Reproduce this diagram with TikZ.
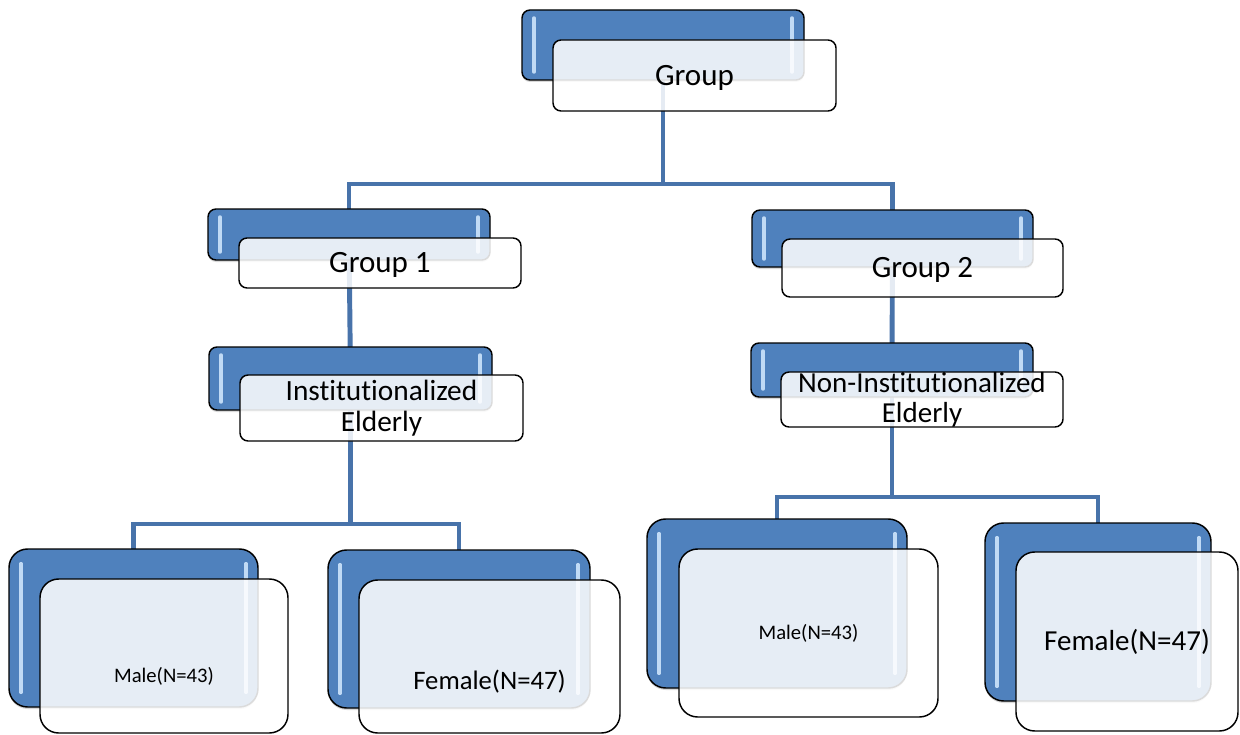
\documentclass[tikz,border=0pt]{standalone}
\usepackage{fontspec}
\setmainfont{Carlito}[Ligatures={NoCommon}]
\usetikzlibrary{fit,shadows}
\pgfdeclarelayer{bgfill}
\pgfdeclarelayer{bg}
\pgfsetlayers{bgfill,bg,main}
\definecolor{boxblue}{RGB}{79,129,189}
\definecolor{connblue}{RGB}{72,115,170}
\definecolor{glosscol}{RGB}{212,234,255}

\newcommand{\twobox}[7]{%
  \node[backbox,#6,fit={(#2)(#3)}] (#1B) {};
  \draw[gloss] ([xshift=9pt,yshift=-#7]#1B.north west) -- ([xshift=9pt,yshift=#7]#1B.south west);
  \draw[gloss] ([xshift=-9pt,yshift=-#7]#1B.north east) -- ([xshift=-9pt,yshift=#7]#1B.south east);
  \node[frontbox,#6,fit={(#4)(#5)}] (#1F) {};
}

\begin{document}
\begin{tikzpicture}[x=0.75pt,y=-0.75pt,
  backbox/.style={draw=black, line width=1.1pt, fill=boxblue, inner sep=0pt, outer sep=0pt,
    drop shadow={shadow xshift=0pt,shadow yshift=-1.5pt,opacity=0.3}},
  frontbox/.style={draw=black, line width=1.1pt, fill=white, fill opacity=0.86, inner sep=0pt, outer sep=0pt},
  smallr/.style={rounded corners=6pt},
  bigr/.style={rounded corners=14pt},
  gloss/.style={draw=glosscol, line width=2.6pt, line cap=round, opacity=0.85},
  conn/.style={draw=connblue, line width=3.7pt},
  lbl/.style={text=black, inner sep=0pt}
]
\begin{pgfonlayer}{bgfill}
\fill[white] (0,0) rectangle (1240,735);
\end{pgfonlayer}
\useasboundingbox (0,0) rectangle (1240,735);

% boxes
\twobox{g}{522,10}{804,80}{553,40}{836,111}{smallr}{6pt}
\twobox{ga}{208,209}{490,260}{239,238}{521,288}{smallr}{6pt}
\twobox{gb}{752,210}{1033,267}{782,239}{1063,297}{smallr}{6pt}
\twobox{in}{209,347}{492,410}{240,375}{523,441}{smallr}{6pt}
\twobox{ni}{751,343}{1033,397}{781,372}{1063,427}{smallr}{6pt}
\twobox{ml}{9,549}{258,707}{40,579}{288,733}{bigr}{11pt}
\twobox{fl}{328,550}{590,708}{359,580}{620,733}{bigr}{11pt}
\twobox{mr}{647,519}{907,688}{679,549}{938,717}{bigr}{11pt}
\twobox{fr}{985,523}{1211,701}{1016,552}{1238,731}{bigr}{11pt}

% connectors
\begin{pgfonlayer}{bg}
\coordinate (j0) at (663,184);
\coordinate (j1) at (350.5,524);
\coordinate (j2) at (892,497);
\draw[conn] (gB.center) -- (j0);
\draw[conn] (j0) -| (gaB.center);
\draw[conn] (j0) -| (gbB.center);
\draw[conn] (gaB.center) -- (inB.center);
\draw[conn] (gbB.center) -- (niB.center);
\draw[conn] (inB.center) -- (j1);
\draw[conn] (j1) -| (mlB.center);
\draw[conn] (j1) -| (flB.center);
\draw[conn] (niB.center) -- (j2);
\draw[conn] (j2) -| (mrB.center);
\draw[conn] (j2) -| (frB.center);
\end{pgfonlayer}

% labels
\node[lbl, font=\fontsize{23.25}{28}\selectfont] (gT) at ([yshift=-1.5pt]gF.center) {Group};
\node[lbl, font=\fontsize{23.25}{28}\selectfont] (gaT) at ([yshift=-1.5pt]gaF.center) {Group 1};
\node[lbl, font=\fontsize{23.25}{28}\selectfont] (gbT) at ([yshift=-1.5pt]gbF.center) {Group 2};
\node[lbl, align=center, font=\fontsize{22}{23.25}\selectfont] (inT) at (inF.center) {Institutionalized\\Elderly};
\node[lbl, align=center, font=\fontsize{21.75}{22.5}\selectfont] (niT) at (niF.center) {Non-Institutionalized\\Elderly};
\node[lbl, font=\fontsize{15.5}{18}\selectfont] (mlT) at ([yshift=-15pt]mlF.center) {Male(N=43)};
\node[lbl, font=\fontsize{20}{24}\selectfont] (flT) at ([yshift=-19pt]flF.center) {Female(N=47)};
\node[lbl, font=\fontsize{15.5}{18}\selectfont] (mrT) at (mrF.center) {Male(N=43)};
\node[lbl, font=\fontsize{21.75}{26}\selectfont] (frT) at (frF.center) {Female(N=47)};
\end{tikzpicture}
\end{document}
